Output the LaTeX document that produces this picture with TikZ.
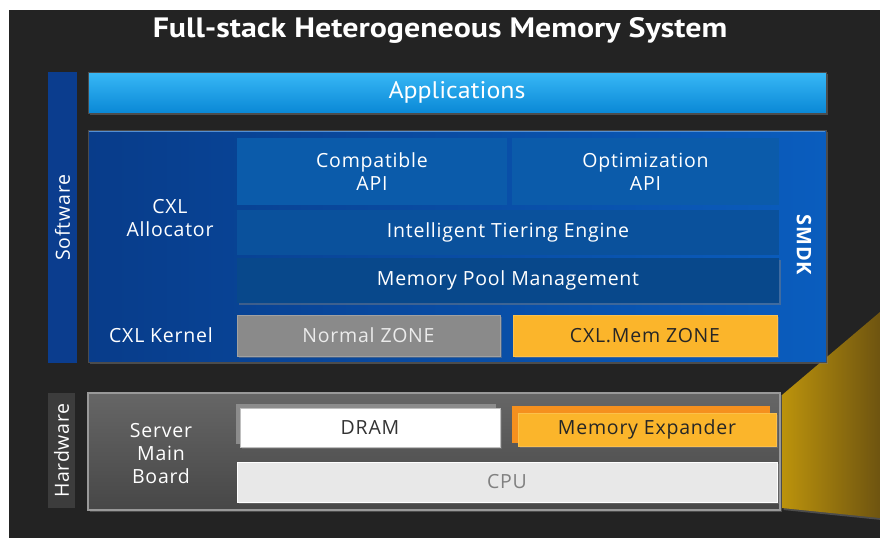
\documentclass[tikz,border=0pt]{standalone}
\usepackage{fontspec}
\setmainfont{Open Sans}[LetterSpace=4]
\newfontfamily\titlefont{PT Sans}
\usetikzlibrary{shadows}

\definecolor{bgdark}{HTML}{232323}
\definecolor{swbar}{HTML}{0B3D8E}
\definecolor{appltop}{HTML}{38B8F6}
\definecolor{applbot}{HTML}{0A88D6}
\definecolor{sdkleft}{HTML}{083C8A}
\definecolor{sdkright}{HTML}{0A5DBE}
\definecolor{apiblue}{HTML}{0B5BAA}
\definecolor{tierblue}{HTML}{0A519C}
\definecolor{poolblue}{HTML}{08488B}
\definecolor{zonegray}{HTML}{8A8A8A}
\definecolor{cxlyellow}{HTML}{FBB52B}
\definecolor{expback}{HTML}{F5901E}
\definecolor{hwbar}{HTML}{3C3C3C}
\definecolor{boardtop}{HTML}{666666}
\definecolor{boardbot}{HTML}{474747}
\definecolor{cpugray}{HTML}{E8E8E8}
\definecolor{wedgelight}{HTML}{BC930C}
\definecolor{wedgedark}{HTML}{6E5410}

\tikzset{
  blk/.style={rectangle, inner sep=0pt, outer sep=0pt, anchor=north west},
  shade/.style={drop shadow={shadow xshift=1.5pt, shadow yshift=-2pt, opacity=0.45}},
  lbl/.style={inner sep=0pt, align=center, text=white, font=\fontsize{19.5}{23}\selectfont},
  sidebar/.style={rectangle, inner sep=0pt, outer sep=0pt, anchor=north west}
}

\begin{document}
\begin{tikzpicture}[x=1pt,y=-1pt]
  % canvas and dark backdrop
  \useasboundingbox (0,0) rectangle (880,538);
  \fill[white] (0,0) rectangle (880,538);
  \fill[bgdark] (9,10) rectangle (880,538);

  % golden wedge at the right edge
  \shade[left color=wedgelight, right color=wedgedark]
    (782,395) -- (880,312) -- (880,518) -- (782,508) -- cycle;

  % title
  \node[inner sep=0pt, font=\titlefont\bfseries\fontsize{28}{32}\selectfont, text=white] (title) at (440,30)
    {\scalebox{1.14}[1]{Full-stack Heterogeneous Memory System}};

  % software side bar
  \node[sidebar, fill=swbar, minimum width=29pt, minimum height=291pt] (swbar) at (48,72) {};
  \node[lbl, rotate=90] (swtext) at (swbar.center) {Software};

  % applications
  \node[blk, shade, top color=appltop, bottom color=applbot, draw=black!70, line width=0.6pt,
    minimum width=738pt, minimum height=41pt] (apps) at (88,72) {};
  \node[lbl, font=\titlefont\fontsize{24}{28}\selectfont] (appstext) at (apps.center)
    {\scalebox{1.08}[1]{Applications}};

  % SMDK container
  \node[blk, shade, left color=sdkleft, right color=sdkright, draw=black!70, line width=0.6pt,
    minimum width=738pt, minimum height=232pt] (smdk) at (88,130) {};
  \draw[sdkright!70!white, line width=1pt] ([xshift=1pt,yshift=-1pt]smdk.north west) -- ([xshift=-1pt,yshift=-1pt]smdk.north east);
  \node[lbl, rotate=-90, font=\bfseries\fontsize{20}{23}\selectfont] (smdktext) at (804,245) {SMDK};

  % API layer
  \node[blk, fill=apiblue, minimum width=270pt, minimum height=67pt] (compat) at (237,138) {};
  \node[lbl] at (compat.center) {Compatible\\API};
  \node[blk, fill=apiblue, minimum width=267pt, minimum height=67pt] (optim) at (512,138) {};
  \node[lbl] at (optim.center) {Optimization\\API};

  % tiering and pool layers
  \node[blk, fill=tierblue, minimum width=542pt, minimum height=45pt] (tier) at (237,210) {};
  \node[lbl] at (tier.center) {Intelligent Tiering Engine};
  \node[blk, shade, fill=poolblue, minimum width=542pt, minimum height=45pt] (pool) at (237,258) {};
  \node[lbl] at (pool.center) {Memory Pool Management};

  % allocator and kernel labels
  \node[lbl] (alloc) at (170,218) {CXL\\Allocator};
  \node[lbl] (kernel) at (161,335) {CXL Kernel};

  % zones
  \node[blk, shade, fill=zonegray, draw=zonegray!80!white, line width=0.8pt,
    minimum width=263pt, minimum height=41pt] (normal) at (237,315) {};
  \node[lbl, text=black!8] at (normal.center) {Normal ZONE};
  \node[blk, shade, fill=cxlyellow, draw=cxlyellow!85!white, line width=0.8pt,
    minimum width=264pt, minimum height=41pt] (cxlmem) at (513,315) {};
  \node[lbl, text=black!85] at (cxlmem.center) {CXL.Mem ZONE};

  % hardware side bar
  \node[sidebar, fill=hwbar, minimum width=27pt, minimum height=115pt] (hwbar) at (48,393) {};
  \node[lbl, rotate=90] (hwtext) at (hwbar.center) {Hardware};

  % server main board
  \node[blk, shade, top color=boardtop, bottom color=boardbot, draw=black!40, line width=1.5pt,
    minimum width=692pt, minimum height=117pt] (board) at (88,393) {};
  \node[lbl] (boardtext) at (161,454) {Server\\Main\\Board};

  % DRAM with its grey backing
  \fill[black!45] (236,404) rectangle (496,444);
  \node[blk, shade, fill=white, draw=black!25, line width=0.6pt,
    minimum width=260pt, minimum height=39pt] (dram) at (240,408) {};
  \node[lbl, text=black!80] at (dram.center) {DRAM};

  % memory expander with its orange backing
  \fill[expback] (512,406) rectangle (770,443);
  \node[blk, shade, fill=cxlyellow, draw=cxlyellow!85!white, line width=0.6pt,
    minimum width=258pt, minimum height=33pt] (expander) at (518,413) {};
  \node[lbl, text=black!85] at (expander.center) {Memory Expander};

  % CPU
  \node[blk, shade, fill=cpugray, draw=white, line width=0.8pt,
    minimum width=540pt, minimum height=40pt] (cpu) at (237,462) {};
  \node[lbl, text=black!50] at (cpu.center) {CPU};
\end{tikzpicture}
\end{document}
